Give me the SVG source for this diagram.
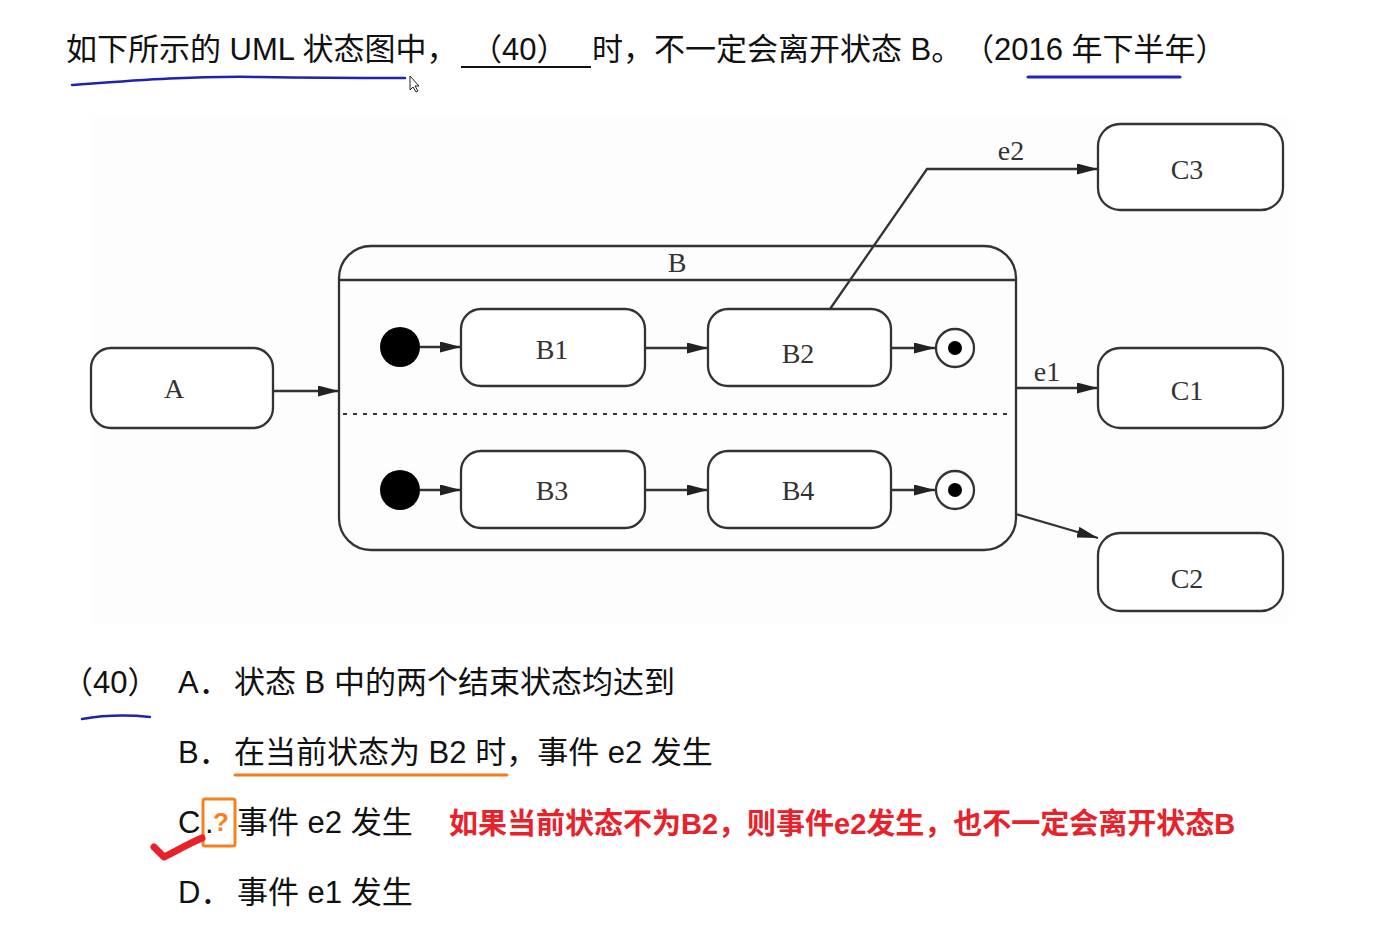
<svg xmlns="http://www.w3.org/2000/svg" width="1374" height="944" viewBox="0 0 1374 944">
<defs>
<style>
.st{fill:#fff;stroke:#333;stroke-width:2.3}
.ln{fill:none;stroke:#333;stroke-width:2.3}
.lbl{font-family:"Liberation Serif",serif;font-size:28px;fill:#333;text-anchor:middle}
.cn{font-family:"Liberation Sans","Noto Sans CJK SC",sans-serif;font-size:31px;fill:#111}
.red{font-family:"Liberation Sans","Noto Sans CJK SC",sans-serif;font-size:29px;font-weight:bold;fill:#e8212b}
.init{fill:#000}
</style>
<marker id="ah" markerWidth="21" markerHeight="11" refX="21" refY="5.5" orient="auto" markerUnits="userSpaceOnUse">
<path d="M0,0 L21,5.5 L0,11 z" fill="#222"/>
</marker>
</defs>
<rect width="1374" height="944" fill="#fff"/>

<g id="question">
<text class="cn" x="66" y="60">如下所示的 UML 状态图中，</text>
<text class="cn" x="471" y="60">（40）</text>
<line x1="461" y1="67" x2="591" y2="67" stroke="#111" stroke-width="2"/>
<text class="cn" x="592" y="60">时，不一定会离开状态 B。</text>
<text class="cn" x="963" y="60">（2016 年下半年）</text>
<path d="M72,85 C140,80 190,76 260,77 C320,78 370,78 405,78" fill="none" stroke="#1f22b0" stroke-width="2.5" stroke-linecap="round"/>
<line x1="1028" y1="77" x2="1180" y2="77" stroke="#1f22c8" stroke-width="3" stroke-linecap="round"/>
<path d="M410,76 L410,90 L413,87 L416,92 L418,91 L415,86 L419,86 z" fill="#fff" stroke="#222" stroke-width="1"/>
</g>

<rect x="91" y="118" width="1198" height="505" fill="#fdfdfd"/>

<g id="connectors">
<line class="ln" x1="273" y1="391" x2="339" y2="391" marker-end="url(#ah)"/>
<line class="ln" x1="420" y1="347" x2="461" y2="347" marker-end="url(#ah)"/>
<line class="ln" x1="645" y1="348" x2="708" y2="348" marker-end="url(#ah)"/>
<line class="ln" x1="891" y1="348" x2="935" y2="348" marker-end="url(#ah)"/>
<line class="ln" x1="420" y1="490" x2="461" y2="490" marker-end="url(#ah)"/>
<line class="ln" x1="645" y1="490" x2="708" y2="490" marker-end="url(#ah)"/>
<line class="ln" x1="891" y1="490" x2="935" y2="490" marker-end="url(#ah)"/>
<polyline class="ln" points="830,309 927,169 1098,169" marker-end="url(#ah)"/>
<text class="lbl" x="1011" y="160">e2</text>
<line class="ln" x1="1016" y1="388" x2="1098" y2="388" marker-end="url(#ah)"/>
<text class="lbl" x="1047" y="381">e1</text>
<line class="ln" x1="1016" y1="514" x2="1098" y2="538" marker-end="url(#ah)"/>
</g>

<g id="A">
<rect class="st" x="91" y="348" width="182" height="80" rx="20"/>
<text class="lbl" x="174" y="398">A</text>
</g>

<g id="B">
<rect class="st" x="339" y="246" width="677" height="304" rx="32" style="fill:none"/>
<line class="ln" x1="339" y1="280" x2="1016" y2="280"/>
<text class="lbl" x="677" y="272">B</text>
<line x1="343" y1="414" x2="1012" y2="414" stroke="#333" stroke-width="2.2" stroke-dasharray="4 6"/>
</g>

<g id="init1"><circle class="init" cx="400" cy="347" r="20"/></g>
<g id="init2"><circle class="init" cx="400" cy="490" r="20"/></g>

<g id="B1">
<rect class="st" x="461" y="309" width="184" height="77" rx="20"/>
<text class="lbl" x="552" y="359">B1</text>
</g>
<g id="B2">
<rect class="st" x="708" y="309" width="183" height="77" rx="20"/>
<text class="lbl" x="798" y="363">B2</text>
</g>
<g id="B3">
<rect class="st" x="461" y="451" width="184" height="77" rx="20"/>
<text class="lbl" x="552" y="500">B3</text>
</g>
<g id="B4">
<rect class="st" x="708" y="451" width="183" height="77" rx="20"/>
<text class="lbl" x="798" y="500">B4</text>
</g>

<g id="final1">
<circle class="st" cx="955" cy="348" r="19"/>
<circle class="init" cx="955" cy="348" r="7"/>
</g>
<g id="final2">
<circle class="st" cx="955" cy="490" r="19"/>
<circle class="init" cx="955" cy="490" r="7"/>
</g>

<g id="C3">
<rect class="st" x="1098" y="124" width="185" height="86" rx="22"/>
<text class="lbl" x="1187" y="179">C3</text>
</g>
<g id="C1">
<rect class="st" x="1098" y="348" width="185" height="80" rx="22"/>
<text class="lbl" x="1187" y="400">C1</text>
</g>
<g id="C2">
<rect class="st" x="1098" y="533" width="185" height="78" rx="22"/>
<text class="lbl" x="1187" y="588">C2</text>
</g>

<g id="options">
<text class="cn" x="62" y="693">（40）</text>
<path d="M82,719 C105,715 130,715 150,717" fill="none" stroke="#1f22b0" stroke-width="2.5" stroke-linecap="round"/>
<text class="cn" x="178" y="693">A．</text>
<text class="cn" x="234" y="693">状态 B 中的两个结束状态均达到</text>
<text class="cn" x="178" y="763">B．</text>
<text class="cn" x="234" y="763">在当前状态为 B2 时，事件 e2 发生</text>
<line x1="235" y1="775" x2="507" y2="775" stroke="#f57a20" stroke-width="3" stroke-linecap="round"/>
<text class="cn" x="178" y="833">C</text>
<rect x="203" y="799" width="32" height="47" fill="none" stroke="#f5821f" stroke-width="3" rx="2"/>
<text class="cn" x="205" y="833">.</text>
<text x="221" y="831" text-anchor="middle" style="font-family:'Liberation Sans',sans-serif;font-size:26px;font-weight:bold;fill:#f5821f">?</text>
<text class="cn" x="237" y="833">事件 e2 发生</text>
<path d="M154,847 L164,857 C178,850 190,843 202,838" fill="none" stroke="#e8212b" stroke-width="7" stroke-linecap="round" stroke-linejoin="round"/>
<text class="red" x="449" y="834">如果当前状态不为B2，则事件e2发生，也不一定会离开状态B</text>
<text class="cn" x="178" y="903">D．</text>
<text class="cn" x="237" y="903">事件 e1 发生</text>
</g>
</svg>
